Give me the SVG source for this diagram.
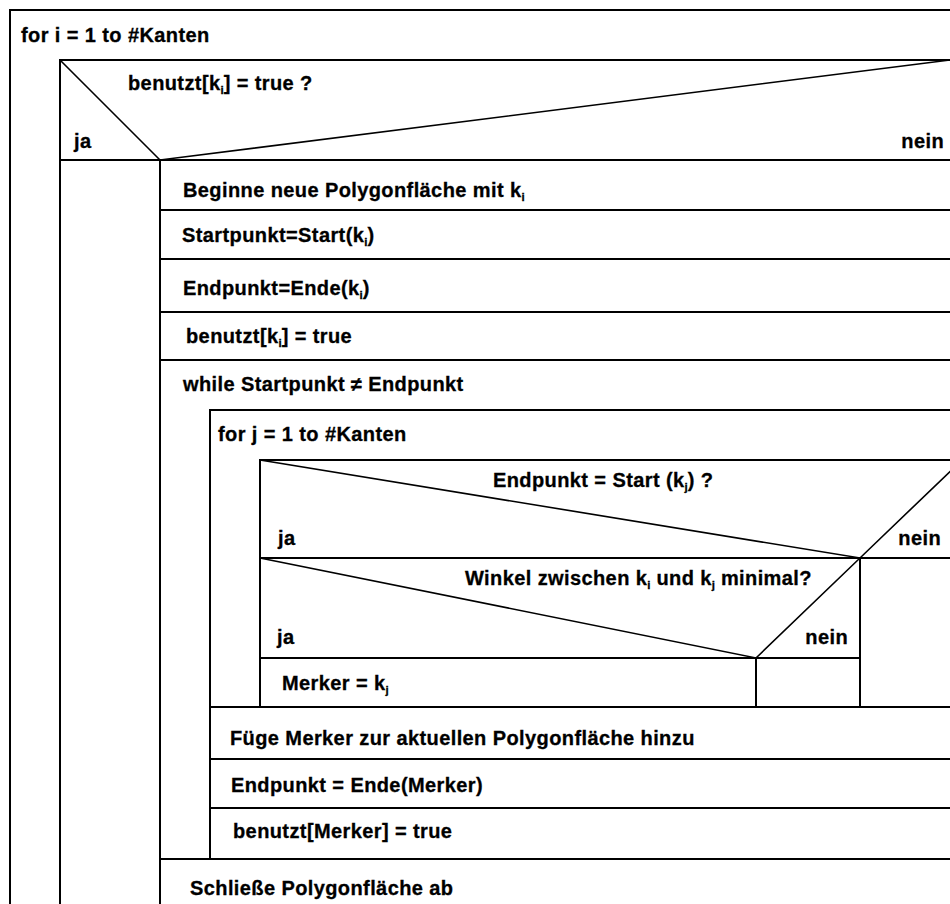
<svg xmlns="http://www.w3.org/2000/svg" width="950" height="904" viewBox="0 0 950 904">
<style>
.t{font-family:"Liberation Sans",Arial,Helvetica,sans-serif;font-weight:bold;font-size:20px;letter-spacing:0.4px;fill:#000;stroke:#000;stroke-width:0.3}
.s{font-size:11.5px;letter-spacing:0}
.ln{stroke:#000;stroke-width:2;fill:none}
.dg{stroke:#000;stroke-width:1.6;fill:none}
</style>
<rect width="950" height="904" fill="#fff"/>
<g id="loop-i">
<path class="ln" d="M10,904V10H950"/>
<text class="t" x="21" y="42">for i = 1 to #Kanten</text>
</g>
<g id="decision-benutzt">
<path class="ln" d="M60,904V60H950M60,160H950"/>
<path class="dg" d="M60,60L160,160L950,60"/>
<text class="t" x="128" y="90">benutzt[k<tspan class="s" dy="4">i</tspan><tspan dy="-4">] = true ?</tspan></text>
<text class="t" x="74" y="148">ja</text>
<text class="t" x="944" y="148" text-anchor="end">nein</text>
</g>
<g id="ja-branch">
<path class="ln" d="M160,160V904"/>
</g>
<g id="beginne">
<text class="t" x="183" y="197">Beginne neue Polygonfläche mit k<tspan class="s" dy="4">i</tspan></text>
<path class="ln" d="M160,210H950"/>
</g>
<g id="startpunkt">
<text class="t" x="182" y="242">Startpunkt=Start(k<tspan class="s" dy="4">i</tspan><tspan dy="-4">)</tspan></text>
<path class="ln" d="M160,259H950"/>
</g>
<g id="endpunkt">
<text class="t" x="183" y="295">Endpunkt=Ende(k<tspan class="s" dy="4">i</tspan><tspan dy="-4">)</tspan></text>
<path class="ln" d="M160,312H950"/>
</g>
<g id="benutzt-true">
<text class="t" x="186" y="343">benutzt[k<tspan class="s" dy="4">i</tspan><tspan dy="-4">] = true</tspan></text>
<path class="ln" d="M160,360H950"/>
</g>
<g id="while-loop">
<text class="t" x="183" y="391">while Startpunkt ≠ Endpunkt</text>
<path class="ln" d="M210,859V410H950"/>
</g>
<g id="loop-j">
<text class="t" x="218" y="441">for j = 1 to #Kanten</text>
</g>
<g id="decision-start">
<path class="ln" d="M260,707V460H950M260,558H950"/>
<path class="dg" d="M260,460L860,558L962,460"/>
<text class="t" x="493" y="487">Endpunkt = Start (k<tspan class="s" dy="4">j</tspan><tspan dy="-4">) ?</tspan></text>
<text class="t" x="278" y="545">ja</text>
<text class="t" x="941" y="545" text-anchor="end">nein</text>
<path class="ln" d="M860,558V707"/>
</g>
<g id="decision-winkel">
<path class="dg" d="M260,558L756,658L860,558"/>
<path class="ln" d="M260,658H860M756,658V707"/>
<text class="t" x="465" y="585">Winkel zwischen k<tspan class="s" dy="4">i</tspan><tspan dy="-4"> und k</tspan><tspan class="s" dy="4">j</tspan><tspan dy="-4"> minimal?</tspan></text>
<text class="t" x="277" y="644">ja</text>
<text class="t" x="848" y="644" text-anchor="end">nein</text>
</g>
<g id="merker">
<text class="t" x="282" y="690">Merker = k<tspan class="s" dy="4">j</tspan></text>
<path class="ln" d="M210,707H950"/>
</g>
<g id="fuege">
<text class="t" x="230" y="745">Füge Merker zur aktuellen Polygonfläche hinzu</text>
<path class="ln" d="M210,759H950"/>
</g>
<g id="endpunkt-merker">
<text class="t" x="231" y="792">Endpunkt = Ende(Merker)</text>
<path class="ln" d="M210,808H950"/>
</g>
<g id="benutzt-merker">
<text class="t" x="233" y="838">benutzt[Merker] = true</text>
<path class="ln" d="M160,859H950"/>
</g>
<g id="schliesse">
<text class="t" x="190" y="895">Schließe Polygonfläche ab</text>
</g>
<g id="connectors"></g>
</svg>
